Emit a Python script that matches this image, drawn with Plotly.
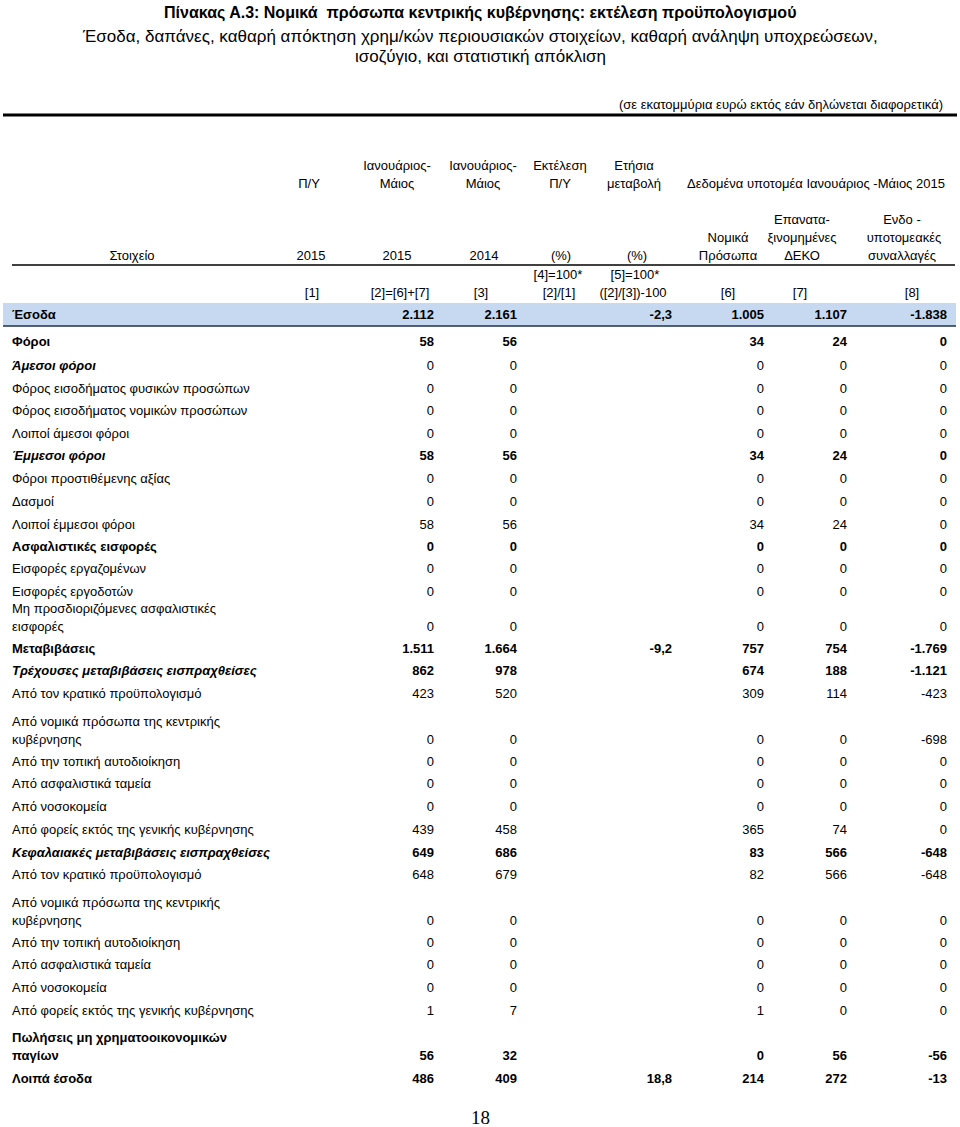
import plotly.graph_objects as go

# Values in € million (Jan-May 2015 vs Jan-May 2014)
row_labels = [
    "Έσοδα",
    "Φόροι",
    "Άμεσοι φόροι",
    "Φόρος εισοδήματος φυσικών προσώπων",
    "Φόρος εισοδήματος νομικών προσώπων",
    "Λοιποί άμεσοι φόροι",
    "Έμμεσοι φόροι",
    "Φόροι προστιθέμενης αξίας",
    "Δασμοί",
    "Λοιποί έμμεσοι φόροι",
    "Ασφαλιστικές εισφορές",
    "Εισφορές εργαζομένων",
    "Εισφορές εργοδοτών",
    "Μη προσδιοριζόμενες ασφαλιστικές\nεισφορές",
    "Μεταβιβάσεις",
    "Τρέχουσες μεταβιβάσεις εισπραχθείσες",
    "Από τον κρατικό προϋπολογισμό",
    "Από νομικά πρόσωπα της κεντρικής\nκυβέρνησης",
    "Από την τοπική αυτοδιοίκηση",
    "Από ασφαλιστικά ταμεία",
    "Από νοσοκομεία",
    "Από φορείς εκτός της γενικής κυβέρνησης",
    "Κεφαλαιακές μεταβιβάσεις εισπραχθείσες",
    "Από τον κρατικό προϋπολογισμό",
    "Από νομικά πρόσωπα της κεντρικής\nκυβέρνησης",
    "Από την τοπική αυτοδιοίκηση",
    "Από ασφαλιστικά ταμεία",
    "Από νοσοκομεία",
    "Από φορείς εκτός της γενικής κυβέρνησης",
    "Πωλήσεις μη χρηματοοικονομικών\nπαγίων",
    "Λοιπά έσοδα",
]
# "total" = shaded row, "b" = bold, "bi" = bold italic label + bold values,
# "bi0" = bold italic label with plain values, "" = plain
row_style = ["total", "b", "bi0", "", "", "", "bi", "", "", "", "b", "", "", "",
             "b", "bi", "", "", "", "", "", "", "bi", "", "", "", "", "", "",
             "b", "b"]

jan_may_2015 = [2112, 58, 0, 0, 0, 0, 58, 0, 0, 58, 0, 0, 0, 0, 1511, 862, 423,
                0, 0, 0, 0, 439, 649, 648, 0, 0, 0, 0, 1, 56, 486]
jan_may_2014 = [2161, 56, 0, 0, 0, 0, 56, 0, 0, 56, 0, 0, 0, 0, 1664, 978, 520,
                0, 0, 0, 0, 458, 686, 679, 0, 0, 0, 0, 7, 32, 409]
annual_change = [-2.3, None, None, None, None, None, None, None, None, None,
                 None, None, None, None, -9.2, None, None, None, None, None,
                 None, None, None, None, None, None, None, None, None, None, 18.8]
legal_entities = [1005, 34, 0, 0, 0, 0, 34, 0, 0, 34, 0, 0, 0, 0, 757, 674, 309,
                  0, 0, 0, 0, 365, 83, 82, 0, 0, 0, 0, 1, 0, 214]
reclass_deko = [1107, 24, 0, 0, 0, 0, 24, 0, 0, 24, 0, 0, 0, 0, 754, 188, 114,
                0, 0, 0, 0, 74, 566, 566, 0, 0, 0, 0, 0, 56, 272]
intra_sector = [-1838, 0, 0, 0, 0, 0, 0, 0, 0, 0, 0, 0, 0, 0, -1769, -1121, -423,
                -698, 0, 0, 0, 0, -648, -648, 0, 0, 0, 0, 0, -56, -13]

# layout (pixels)
W, H = 960, 1127
FONT = "Liberation Sans, Arial, sans-serif"
FS = 13
LINE_H = 18
LABEL_X = 12
FIRST_ROW_Y = 316
row_gap = [0, 27, 24, 23, 22, 23, 22, 23, 23, 23, 22, 22, 23, 35, 22, 22, 23,
           46, 22, 22, 23, 23, 23, 22, 46, 22, 22, 23, 23, 45, 23]

ys = []
y = FIRST_ROW_Y
for g in row_gap:
    y += g
    ys.append(y)


def fmt(v, decimals=0):
    """Greek number formatting: 1.234 and -2,3"""
    if v is None:
        return ""
    s = f"{v:,.{decimals}f}"
    return s.replace(",", "X").replace(".", ",").replace("X", ".")


def styled(txt, style, label=False):
    if not txt:
        return ""
    if style in ("bi", "bi0") and label:
        return f"<b><i>{txt}</i></b>"
    if style in ("b", "bi", "total"):
        return f"<b>{txt}</b>"
    return txt


fig = go.Figure()

# row labels (multi-line labels are bottom aligned with the numbers)
lx, ly, lt = [], [], []
for lab, st, yy in zip(row_labels, row_style, ys):
    parts = lab.split("\n")
    for k, p in enumerate(parts):
        lx.append(LABEL_X)
        ly.append(yy - (len(parts) - 1 - k) * LINE_H)
        lt.append(styled(p, st, label=True))
fig.add_trace(go.Scatter(
    x=lx, y=ly, text=lt, mode="text", textposition="middle right",
    textfont=dict(family=FONT, size=FS, color="black"),
    hoverinfo="skip", showlegend=False,
))

# numeric columns: (values, right edge, decimals)
columns = [
    (jan_may_2015, 434, 0),
    (jan_may_2014, 517, 0),
    (annual_change, 672, 1),
    (legal_entities, 764, 0),
    (reclass_deko, 847, 0),
    (intra_sector, 947, 0),
]
for vals, xr, dec in columns:
    fig.add_trace(go.Scatter(
        x=[xr] * len(vals), y=ys,
        text=[styled(fmt(v, dec), st) for v, st in zip(vals, row_style)],
        mode="text", textposition="middle left",
        textfont=dict(family=FONT, size=FS, color="black"),
        hoverinfo="skip", showlegend=False,
    ))

# column headers: (text, centre x, y)
headers = [
    ("Π/Υ", 309, 185),
    ("Ιανουάριος-", 397, 167), ("Μάιος", 397, 185),
    ("Ιανουάριος-", 483, 167), ("Μάιος", 483, 185),
    ("Εκτέλεση", 560, 167), ("Π/Υ", 560, 185),
    ("Ετήσια", 634, 167), ("μεταβολή", 634, 185),
    ("Δεδομένα υποτομέα Ιανουάριος -Μάιος 2015", 816, 185),
    ("Στοιχείο", 132, 257),
    ("2015", 311, 257), ("2015", 397, 257), ("2014", 484, 257),
    ("(%)", 561, 257), ("(%)", 637, 257),
    ("Νομικά", 728, 239), ("Πρόσωπα", 728, 257),
    ("Επανατα-", 802, 221), ("ξινομημένες", 802, 239), ("ΔΕΚΟ", 802, 257),
    ("Ενδο -", 902, 221), ("υποτομεακές", 904, 239), ("συναλλαγές", 902, 257),
    ("[1]", 312, 294), ("[2]=[6]+[7]", 400, 294), ("[3]", 481, 294),
    ("[4]=100*", 558, 276), ("[2]/[1]", 559, 294),
    ("[5]=100*", 635, 276), ("([2]/[3])-100", 633, 294),
    ("[6]", 728, 294), ("[7]", 800, 294), ("[8]", 912, 294),
]
fig.add_trace(go.Scatter(
    x=[h[1] for h in headers], y=[h[2] for h in headers],
    text=[h[0] for h in headers], mode="text", textposition="middle center",
    textfont=dict(family=FONT, size=FS, color="black"),
    hoverinfo="skip", showlegend=False,
))

shapes = [
    # shaded total row
    dict(type="rect", x0=3, x1=956, y0=303, y1=326, fillcolor="#c6d9f1",
         line=dict(width=0), layer="below"),
    dict(type="line", x0=3, x1=956, y0=326, y1=326,
         line=dict(color="#1f2f4f", width=1.5)),
    # rule under the header
    dict(type="line", x0=12, x1=955, y0=265, y1=265,
         line=dict(color="black", width=1.5)),
    # heavy rule under the units note
    dict(type="line", x0=3, x1=957, y0=115, y1=115,
         line=dict(color="black", width=3)),
]

annotations = [
    dict(text="<b>Πίνακας Α.3: Νομικά  πρόσωπα κεντρικής κυβέρνησης: εκτέλεση προϋπολογισμού</b>",
         x=480, y=13, font=dict(family=FONT, size=16)),
    dict(text="Έσοδα, δαπάνες, καθαρή απόκτηση χρημ/κών περιουσιακών στοιχείων, καθαρή ανάληψη υποχρεώσεων,",
         x=480, y=36, font=dict(family=FONT, size=17)),
    dict(text="ισοζύγιο, και στατιστική απόκλιση",
         x=480, y=56, font=dict(family=FONT, size=17)),
    dict(text="(σε εκατομμύρια ευρώ εκτός εάν δηλώνεται διαφορετικά)",
         x=945, y=104, xanchor="right", font=dict(family=FONT, size=13)),
    dict(text="18", x=480, y=1117,
         font=dict(family="Liberation Serif, Times New Roman, serif", size=19)),
]
for a in annotations:
    a.setdefault("xanchor", "center")
    a.update(xref="x", yref="y", yanchor="middle", showarrow=False)
    a["font"]["color"] = "black"

fig.update_layout(
    width=W, height=H,
    margin=dict(l=0, r=0, t=0, b=0),
    paper_bgcolor="white", plot_bgcolor="white",
    xaxis=dict(range=[0, W], visible=False, fixedrange=True),
    yaxis=dict(range=[H, 0], visible=False, fixedrange=True),
    shapes=shapes, annotations=annotations,
)

# drop the browser's default 8px body margin so the page fits the window
fig.write_html(
    "out.html",
    config={"displayModeBar": False},
    post_script="document.body.style.margin='0';document.body.style.overflow='hidden';",
)
